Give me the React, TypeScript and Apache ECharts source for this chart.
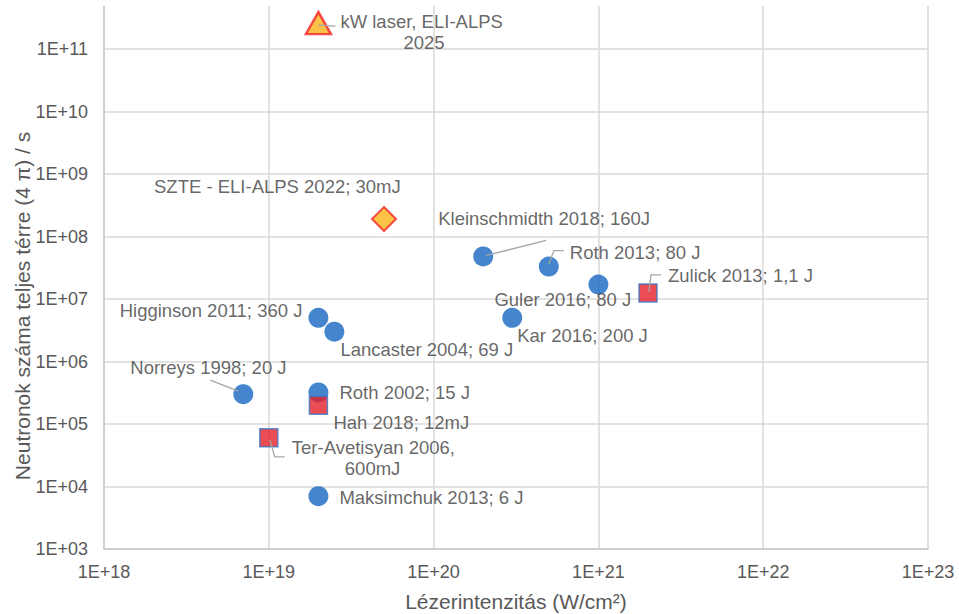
import React, { useEffect, useRef } from "react";
import * as echarts from "echarts";

// ---- data ----
const xTickLabels = ["1E+18", "1E+19", "1E+20", "1E+21", "1E+22", "1E+23"];
const yTickLabels = ["1E+03", "1E+04", "1E+05", "1E+06", "1E+07", "1E+08", "1E+09", "1E+10", "1E+11"];

const circleNames = [
  "Kleinschmidth 2018; 160J",
  "Roth 2013; 80 J",
  "Guler 2016; 80 J",
  "Kar 2016; 200 J",
  "Higginson 2011; 360 J",
  "Lancaster 2004; 69 J",
  "Norreys 1998; 20 J",
  "Roth 2002; 15 J",
  "Maksimchuk 2013; 6 J",
];
const circleIntensity = [2e20, 5e20, 1e21, 3e20, 2e19, 2.5e19, 7e18, 2e19, 2e19];
const circleNeutrons = [4.8e7, 3.3e7, 1.7e7, 5e6, 5e6, 3e6, 3e5, 3.2e5, 7e3];

const squareNames = ["Zulick 2013; 1,1 J", "Hah 2018; 12mJ", "Ter-Avetisyan 2006,\n600mJ"];
const squareIntensity = [2e21, 2e19, 1e19];
const squareNeutrons = [1.25e7, 2e5, 6e4];

const diamondNames = ["SZTE - ELI-ALPS 2022; 30mJ"];
const diamondIntensity = [5e19];
const diamondNeutrons = [1.9e8];

const triangleNames = ["kW laser, ELI-ALPS\n2025"];
const triangleIntensity = [2e19];
const triangleNeutrons = [2.6e11];

const xTitle = "Lézerintenzitás (W/cm²)";
const yTitle = "Neutronok száma teljes térre (4 π) / s";

// ---- label layout (pixel offsets from the point, style only) ----
const labelLayout: Record<string, { off: [number, number]; align: string; vAlign?: string; pad2?: number }> = {
  "Kleinschmidth 2018; 160J": { off: [-45, -38], align: "left" },
  "Roth 2013; 80 J": { off: [21, -14], align: "left" },
  "Guler 2016; 80 J": { off: [-104, 15], align: "left" },
  "Kar 2016; 200 J": { off: [5, 18], align: "left" },
  "Higginson 2011; 360 J": { off: [-16, -7], align: "right" },
  "Lancaster 2004; 69 J": { off: [6, 18], align: "left" },
  "Norreys 1998; 20 J": { off: [-113, -27], align: "left" },
  "Roth 2002; 15 J": { off: [21, 0], align: "left" },
  "Maksimchuk 2013; 6 J": { off: [21, 1], align: "left" },
  "Zulick 2013; 1,1 J": { off: [20, -17], align: "left" },
  "Hah 2018; 12mJ": { off: [15, 17], align: "left" },
  "Ter-Avetisyan 2006,\n600mJ": { off: [23, -1], align: "left", vAlign: "top", pad2: 53 },
  "SZTE - ELI-ALPS 2022; 30mJ": { off: [-230, -33], align: "left" },
  "kW laser, ELI-ALPS\n2025": { off: [22, -12.5], align: "left", vAlign: "top", pad2: 63 },
};

// leader lines: pixel offsets from the point
const leaderLayout: Record<string, [number, number][]> = {
  "kW laser, ELI-ALPS\n2025": [[0, 2], [17, 3]],
  "Kleinschmidth 2018; 160J": [[3, -1], [63, -16]],
  "Roth 2013; 80 J": [[0, -2], [5, -16], [15, -16]],
  "Zulick 2013; 1,1 J": [[1, -1], [3, -18], [13, -18]],
  "Norreys 1998; 20 J": [[-5, -3], [-33, -14]],
  "Ter-Avetisyan 2006,\n600mJ": [[1, 2], [6, 19], [16, 19]],
};

const FONT = "Arial, 'Liberation Sans', sans-serif";
const LABEL_COLOR = "#404040";
const TICK_COLOR = "#595959";
const LABEL_SIZE = 18.5;

function labelFor(name: string) {
  const l = labelLayout[name];
  const lines = name.split("\n");
  const base: any = {
    show: true,
    position: "inside",
    align: l.align,
    verticalAlign: l.vAlign || "middle",
    offset: l.off,
    color: LABEL_COLOR,
    fontFamily: FONT,
    fontSize: LABEL_SIZE,
  };
  if (lines.length > 1) {
    base.formatter = "{a|" + lines[0] + "}\n{b|" + lines[1] + "}";
    base.rich = {
      a: { fontFamily: FONT, fontSize: LABEL_SIZE, color: LABEL_COLOR, lineHeight: 21 },
      b: { fontFamily: FONT, fontSize: LABEL_SIZE, color: LABEL_COLOR, lineHeight: 21, padding: [0, 0, 0, l.pad2 || 0] },
    };
  } else {
    base.formatter = name;
  }
  return base;
}

function buildData(names: string[], xs: number[], ys: number[]) {
  return names.map((n, i) => ({ name: n, value: [xs[i], ys[i]], label: labelFor(n) }));
}

const allNames = [...circleNames, ...squareNames, ...diamondNames, ...triangleNames];
const allX = [...circleIntensity, ...squareIntensity, ...diamondIntensity, ...triangleIntensity];
const allY = [...circleNeutrons, ...squareNeutrons, ...diamondNeutrons, ...triangleNeutrons];
const leaderData = allNames
  .map((n, i) => ({ name: n, value: [allX[i], allY[i]] }))
  .filter((d) => leaderLayout[d.name]);

function expLabel(v: number, labels: string[], first: number) {
  const e = Math.round(Math.log10(v));
  return labels[e - first] || "";
}

export default function App() {
  const ref = useRef<HTMLDivElement>(null);
  useEffect(() => {
    if (!ref.current) return;
    const chart = echarts.init(ref.current, null, { renderer: "svg" });
    const option: any = {
      animation: false,
      backgroundColor: "#ffffff",
      grid: { left: 104, right: 31, top: -13.5, bottom: 65, containLabel: false, outerBoundsMode: "none" },
      xAxis: {
        type: "log",
        logBase: 10,
        min: 1e18,
        max: 1e23,
        interval: 1,
        name: xTitle,
        nameLocation: "middle",
        nameGap: 42,
        nameTextStyle: { color: TICK_COLOR, fontFamily: FONT, fontSize: 21 },
        axisLine: { show: true, lineStyle: { color: "#c8c8c8", width: 1.5 } },
        axisTick: { show: false },
        axisLabel: {
          color: TICK_COLOR,
          fontFamily: FONT,
          fontSize: 18,
          margin: 14,
          formatter: (v: number) => expLabel(v, xTickLabels, 18),
        },
        splitLine: { show: true, lineStyle: { color: "#d9d9d9", width: 1.5 } },
      },
      yAxis: {
        type: "log",
        logBase: 10,
        min: 1e3,
        max: 1e12,
        interval: 1,
        axisLine: { show: true, lineStyle: { color: "#c8c8c8", width: 1.5 } },
        axisTick: { show: false },
        axisLabel: {
          color: TICK_COLOR,
          fontFamily: FONT,
          fontSize: 18,
          margin: 16,
          showMaxLabel: false,
          formatter: (v: number) => expLabel(v, yTickLabels, 3),
        },
        splitLine: { show: true, lineStyle: { color: "#d9d9d9", width: 1.5 } },
      },
      graphic: [
        { type: "rect", z: 100, shape: { x: 0, y: 0, width: 959, height: 6 }, style: { fill: "#ffffff" } },
        {
          type: "text",
          x: 22,
          y: 306,
          rotation: Math.PI / 2,
          style: {
            text: yTitle,
            fill: TICK_COLOR,
            fontFamily: FONT,
            fontSize: 21,
            align: "center",
            verticalAlign: "middle",
          },
        },
      ],
      series: [
        {
          type: "scatter",
          name: "circles",
          symbol: "circle",
          symbolSize: 20,
          itemStyle: { color: "#1567c0" },
          data: buildData(circleNames, circleIntensity, circleNeutrons),
          z: 3,
        },
        {
          type: "scatter",
          name: "squares",
          symbol: "rect",
          symbolSize: 18,
          itemStyle: { color: "#e62129", borderColor: "#3a78c9", borderWidth: 1.5 },
          data: buildData(squareNames, squareIntensity, squareNeutrons),
          z: 3,
        },
        {
          type: "scatter",
          name: "diamond",
          symbol: "diamond",
          symbolSize: 24,
          itemStyle: { color: "#fbb31a", borderColor: "#f0242a", borderWidth: 2 },
          data: buildData(diamondNames, diamondIntensity, diamondNeutrons),
          z: 3,
        },
        {
          type: "scatter",
          name: "triangle",
          symbol: "triangle",
          symbolSize: [25, 22],
          itemStyle: { color: "#fbb31a", borderColor: "#f0242a", borderWidth: 2.5 },
          data: buildData(triangleNames, triangleIntensity, triangleNeutrons),
          z: 3,
        },
        {
          type: "custom",
          name: "leaders",
          z: 5,
          silent: true,
          data: leaderData,
          renderItem: (params: any, api: any) => {
            const d = leaderData[params.dataIndex];
            const c = api.coord([api.value(0), api.value(1)]);
            const pts = leaderLayout[d.name].map((o) => [c[0] + o[0], c[1] + o[1]]);
            return {
              type: "polyline",
              shape: { points: pts },
              style: { stroke: "#a6a6a6", lineWidth: 1.3, fill: null },
            };
          },
        },
      ],
    };
    chart.setOption(option);
    return () => chart.dispose();
  }, []);
  return (
    <div
      ref={ref}
      style={{ position: "fixed", left: 0, top: 0, width: 959, height: 614, background: "#fff" }}
    />
  );
}
